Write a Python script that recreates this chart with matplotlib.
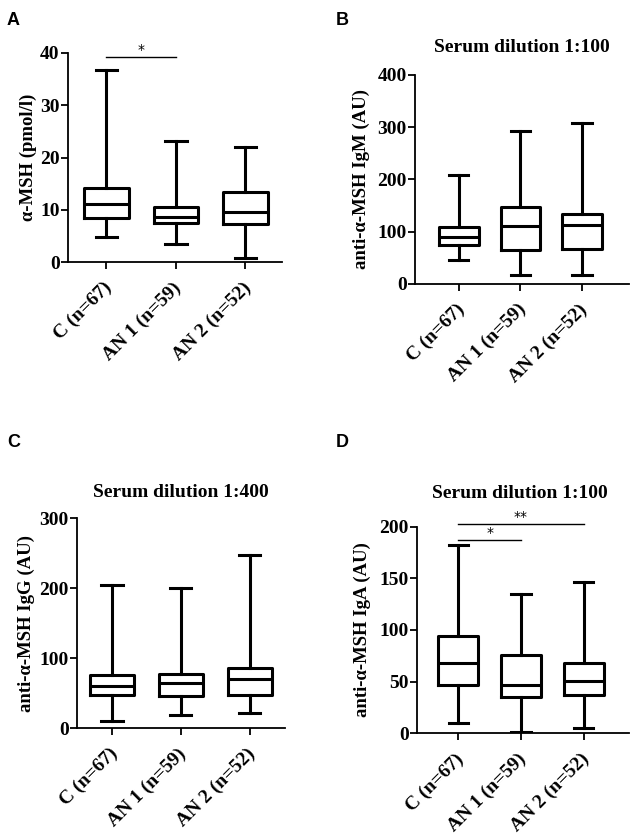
import matplotlib.pyplot as plt
import matplotlib.transforms as mtransforms

plt.rcParams['font.family'] = ['Liberation Serif', 'DejaVu Serif']
plt.rcParams['font.weight'] = 'bold'
plt.rcParams['axes.labelweight'] = 'bold'

groups = ['C (n=67)', 'AN 1 (n=59)', 'AN 2 (n=52)']

# five-number summaries: low whisker, Q1, median, Q3, high whisker
a_low = [4.8, 3.4, 0.8]
a_q1 = [8.4, 7.5, 7.2]
a_med = [11.2, 8.6, 9.6]
a_q3 = [14.2, 10.6, 13.4]
a_high = [36.8, 23.2, 22.0]

b_low = [45, 18, 18]
b_q1 = [75, 64, 67]
b_med = [89, 110, 112]
b_q3 = [108, 148, 133]
b_high = [208, 293, 307]

c_low = [10, 19, 22]
c_q1 = [47, 46, 47]
c_med = [60, 64, 70]
c_q3 = [76, 77, 86]
c_high = [205, 201, 247]

d_low = [10, 1, 5]
d_q1 = [47, 35, 37]
d_med = [68, 47, 51]
d_q3 = [94, 76, 68]
d_high = [182, 135, 146]

fig = plt.figure(figsize=(6.3, 8.4), dpi=100)


def draw_panel(rect, xlim, ymax, yticks, ylabel, low, q1, med, q3, high, label_x):
    ax = fig.add_axes(rect)
    stats = []
    for i in range(len(groups)):
        stats.append({'whislo': low[i], 'q1': q1[i], 'med': med[i],
                      'q3': q3[i], 'whishi': high[i], 'fliers': []})
    lw = 2.2
    ax.bxp(stats, positions=range(len(groups)), widths=0.64, capwidths=0.31,
           showfliers=False, manage_ticks=False,
           boxprops=dict(color='black', linewidth=lw),
           medianprops=dict(color='black', linewidth=lw),
           whiskerprops=dict(color='black', linewidth=lw),
           capprops=dict(color='black', linewidth=lw))
    ax.set_xlim(*xlim)
    ax.set_ylim(0, ymax)
    ax.set_yticks(yticks)
    ax.set_xticks(range(len(groups)))
    ax.tick_params(axis='both', width=1.3, length=5)
    ax.tick_params(axis='y', labelsize=14, pad=1)
    ax.set_xticklabels(groups, rotation=45, ha='right', va='center',
                       rotation_mode='anchor', fontsize=14)
    # push the slanted labels down and right, as in the original
    offset = mtransforms.ScaledTranslation(2 / 72, -8 / 72, fig.dpi_scale_trans)
    for t in ax.get_xticklabels():
        t.set_transform(t.get_transform() + offset)
    for s in ['top', 'right']:
        ax.spines[s].set_visible(False)
    for s in ['left', 'bottom']:
        ax.spines[s].set_linewidth(1.3)
    ax.set_ylabel(ylabel, fontsize=13.5)
    ax.yaxis.set_label_coords(label_x, 0.5)
    ax.yaxis.label.set_va('center')
    return ax


axA = draw_panel([0.108, 0.688, 0.340, 0.249], (-0.55, 2.53), 40, [0, 10, 20, 30, 40],
                 'α-MSH (pmol/l)', a_low, a_q1, a_med, a_q3, a_high, -0.185)
axB = draw_panel([0.659, 0.662, 0.339, 0.249], (-0.71, 2.76), 400, [0, 100, 200, 300, 400],
                 'anti-α-MSH IgM (AU)', b_low, b_q1, b_med, b_q3, b_high, -0.25)
axC = draw_panel([0.122, 0.133, 0.330, 0.250], (-0.51, 2.51), 300, [0, 100, 200, 300],
                 'anti-α-MSH IgG (AU)', c_low, c_q1, c_med, c_q3, c_high, -0.245)
axD = draw_panel([0.662, 0.127, 0.336, 0.246], (-0.66, 2.72), 200, [0, 50, 100, 150, 200],
                 'anti-α-MSH IgA (AU)', d_low, d_q1, d_med, d_q3, d_high, -0.258)


def sig_bar(ax, x0, x1, y, text):
    ax.plot([x0, x1], [y, y], color='black', linewidth=1.0, clip_on=False)
    ax.text((x0 + x1) / 2, y, text, ha='center', va='bottom', fontsize=10,
            family='DejaVu Sans', fontweight='normal')


sig_bar(axA, 0, 1, 39.2, '*')
sig_bar(axD, 0, 1, 187.5, '*')
sig_bar(axD, 0, 2, 203, '**')

# panel titles
fig.text(0.829, 0.943, 'Serum dilution 1:100', ha='center', va='center', fontsize=14)
fig.text(0.287, 0.414, 'Serum dilution 1:400', ha='center', va='center', fontsize=14)
fig.text(0.825, 0.413, 'Serum dilution 1:100', ha='center', va='center', fontsize=14)

# panel letters
for x, y, s in [(0.021, 0.976, 'A'), (0.544, 0.976, 'B'),
                (0.022, 0.473, 'C'), (0.544, 0.473, 'D')]:
    fig.text(x, y, s, ha='center', va='center', fontsize=13,
             family='Liberation Sans', fontweight='bold')

fig.savefig('out.png', dpi=100)
